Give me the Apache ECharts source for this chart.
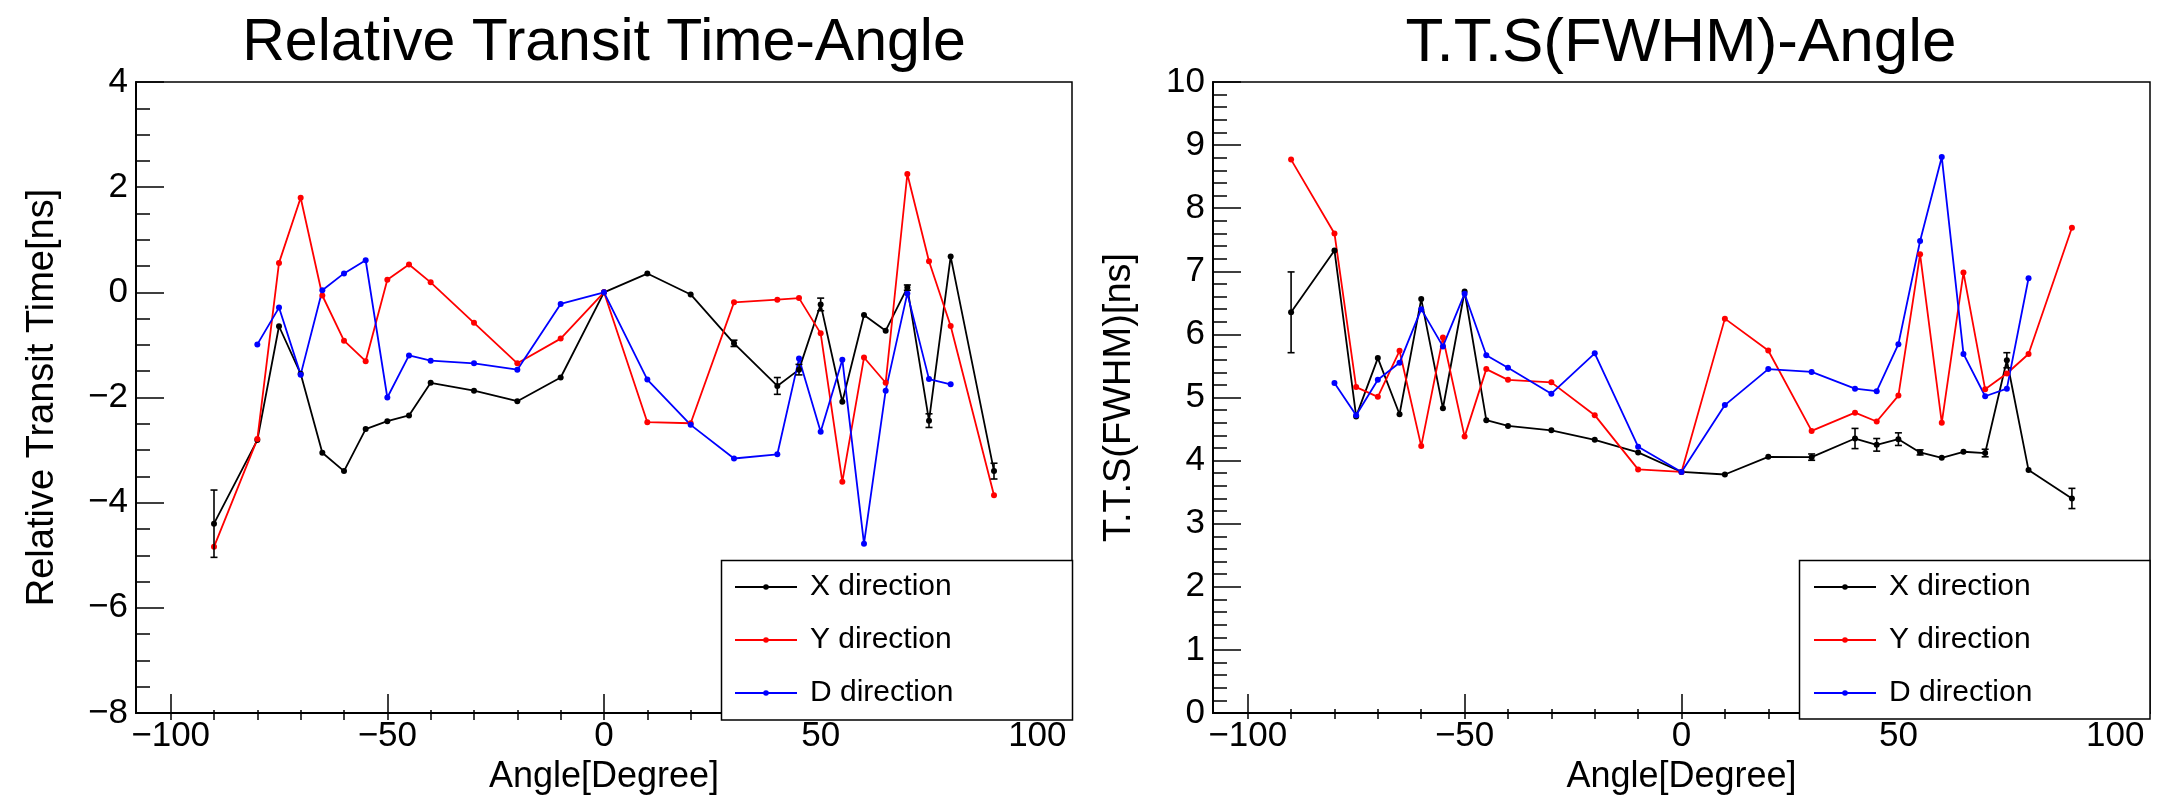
<!DOCTYPE html>
<html>
<head>
<meta charset="utf-8">
<script src="https://cdn.jsdelivr.net/npm/echarts@6/dist/echarts.min.js"></script>
<style>
html,body{margin:0;padding:0;background:#fff;}
#chart{width:2163px;height:800px;}
</style>
</head>
<body>
<div id="chart"></div>
<script>
// ---- data ----
const anglesFull = [-90,-80,-75,-70,-65,-60,-55,-50,-45,-40,-30,-20,-10,0,10,20,30,40,45,50,55,60,65,70,75,80,90];
const anglesD = [-80,-75,-70,-65,-60,-55,-50,-45,-40,-30,-20,-10,0,10,20,30,40,45,50,55,60,65,70,75,80];

// Relative transit time [ns]
const rttX = [-4.40,-2.81,-0.645,-1.55,-3.05,-3.40,-2.60,-2.45,-2.34,-1.72,-1.87,-2.07,-1.62,0,0.357,-0.04,-0.97,-1.78,-1.47,-0.23,-2.08,-0.43,-0.73,0.09,-2.44,0.68,-3.40];
const rttXErr = [0.64,0,0,0,0,0,0,0,0,0,0,0,0,0,0,0,0.06,0.16,0.10,0.12,0,0,0,0.05,0.13,0,0.15];
const rttY = [-4.84,-2.79,0.56,1.80,-0.06,-0.92,-1.31,0.24,0.53,0.19,-0.58,-1.35,-0.88,0,-2.47,-2.49,-0.19,-0.14,-0.11,-0.78,-3.60,-1.24,-1.72,2.25,0.59,-0.64,-3.86];
const rttD = [-0.99,-0.29,-1.565,0.04,0.36,0.61,-2.0,-1.20,-1.30,-1.35,-1.47,-0.22,0,-1.66,-2.52,-3.16,-3.08,-1.26,-2.65,-1.28,-4.78,-1.87,-0.02,-1.65,-1.75];

// T.T.S (FWHM) [ns]
const ttsX = [6.35,7.33,4.70,5.625,4.735,6.56,4.83,6.68,4.64,4.55,4.48,4.33,4.13,3.82,3.78,4.06,4.055,4.35,4.25,4.34,4.13,4.045,4.14,4.12,5.59,3.85,3.40];
const ttsXErr = [0.64,0,0,0,0,0,0,0,0,0,0,0,0,0,0,0,0.05,0.16,0.10,0.10,0.04,0,0,0.06,0.12,0,0.16];
const ttsY = [8.77,7.60,5.165,5.01,5.74,4.23,5.95,4.38,5.45,5.28,5.24,4.72,3.86,3.82,6.25,5.745,4.47,4.76,4.62,5.03,7.27,4.60,6.98,5.13,5.38,5.69,7.69];
const ttsD = [5.23,4.72,5.28,5.55,6.40,5.81,6.645,5.67,5.47,5.06,5.70,4.22,3.82,4.88,5.45,5.405,5.14,5.10,5.845,7.48,8.81,5.69,5.02,5.14,6.89];

const seriesNames = ['X direction','Y direction','D direction'];
const seriesColors = ['#000000','#ff0000','#0000ff'];
const titles = ['Relative Transit Time-Angle','T.T.S(FWHM)-Angle'];
const xTitle = 'Angle[Degree]';
const yTitles = ['Relative Transit Time[ns]','T.T.S(FWHM)[ns]'];
const xMajorTicks = [-100,-50,0,50,100];
const xMinorTicks = [-100,-90,-80,-70,-60,-50,-40,-30,-20,-10,0,10,20,30,40,50,60,70,80,90,100];

// ---- helpers ----
const FONT = '"Liberation Sans", Arial, Helvetica, sans-serif';
const zip = (xs, ys) => xs.map((x, i) => [x, ys[i]]);
const zipErr = (xs, ys, es) => xs.map((x, i) => [x, ys[i], es[i]]).filter(d => d[2] > 0);
const fmt = v => (v < 0 ? '\u2212' + Math.abs(v) : String(v));

const chart = echarts.init(document.getElementById('chart'), null, {renderer: 'canvas'});

function mainX(gi) {
  return {
    type: 'value', gridIndex: gi, min: -108, max: 108, position: 'bottom',
    name: xTitle, nameLocation: 'middle', nameGap: 46,
    nameTextStyle: {fontFamily: FONT, fontSize: 36, color: '#000'},
    axisLine: {show: true, onZero: false, lineStyle: {color: '#000', width: 2}},
    axisTick: {show: true, inside: true, length: 19, customValues: xMajorTicks, lineStyle: {color: '#000', width: 1.5}},
    axisLabel: {show: true, customValues: xMajorTicks, margin: 6, formatter: fmt, fontFamily: FONT, fontSize: 35, color: '#000'},
    splitLine: {show: false}
  };
}
// second x axis of each grid only carries the short 10-degree ticks;
// it sits on the 'top' side and is shifted down onto the bottom edge of the frame
function minorX(gi, plotHeight) {
  return {
    type: 'value', gridIndex: gi, min: -108, max: 108, position: 'top', offset: -plotHeight,
    axisLine: {show: false, onZero: false},
    axisTick: {show: true, inside: false, length: 10, customValues: xMinorTicks, lineStyle: {color: '#000', width: 1.5}},
    axisLabel: {show: false},
    splitLine: {show: false}
  };
}
function yAx(gi, min, max, interval, minorSplit, name) {
  return {
    type: 'value', gridIndex: gi, min: min, max: max, interval: interval,
    name: name, nameLocation: 'middle', nameRotate: 90, nameGap: 74,
    nameTextStyle: {fontFamily: FONT, fontSize: 38, color: '#000'},
    axisLine: {show: true, onZero: false, lineStyle: {color: '#000', width: 2}},
    axisTick: {show: true, inside: true, length: 28, lineStyle: {color: '#000', width: 1.5}},
    minorTick: {show: true, splitNumber: minorSplit, length: 14, lineStyle: {color: '#000', width: 1.5}},
    axisLabel: {margin: 8, formatter: fmt, fontFamily: FONT, fontSize: 35, color: '#000'},
    splitLine: {show: false}, minorSplitLine: {show: false}
  };
}
function lineSeries(name, color, xs, ys, xi, yi) {
  return {
    type: 'line', name: name, xAxisIndex: xi, yAxisIndex: yi,
    data: zip(xs, ys), symbol: 'circle', symbolSize: 6,
    lineStyle: {color: color, width: 1.8}, itemStyle: {color: color},
    emphasis: {disabled: true}, z: 3
  };
}
function errSeries(xs, ys, es, xi, yi) {
  return {
    type: 'custom', name: 'err', xAxisIndex: xi, yAxisIndex: yi,
    data: zipErr(xs, ys, es), z: 4,
    renderItem: function (params, api) {
      const x = api.value(0), y = api.value(1), e = api.value(2);
      const t = api.coord([x, y + e]), b = api.coord([x, y - e]);
      const c = 3.5;
      const st = {stroke: '#000', lineWidth: 1.6};
      return {type: 'group', children: [
        {type: 'line', shape: {x1: t[0], y1: t[1], x2: b[0], y2: b[1]}, style: st},
        {type: 'line', shape: {x1: t[0] - c, y1: t[1], x2: t[0] + c, y2: t[1]}, style: st},
        {type: 'line', shape: {x1: b[0] - c, y1: b[1], x2: b[0] + c, y2: b[1]}, style: st}
      ]};
    }
  };
}
function legendAt(left) {
  return {
    show: true, orient: 'vertical', left: left, top: 572, padding: 0,
    itemWidth: 62, itemHeight: 7, itemGap: 23, selectedMode: false, z: 20,
    data: seriesNames,
    textStyle: {fontFamily: FONT, fontSize: 30, color: '#000', padding: [0, 0, 0, 8]}
  };
}

const option = {
  animation: false,
  backgroundColor: '#ffffff',
  title: [
    {text: titles[0], left: 604, top: 14, textAlign: 'center', padding: 0,
     textStyle: {fontFamily: FONT, fontSize: 59, fontWeight: 'normal', color: '#000'}},
    {text: titles[1], left: 1681, top: 13, textAlign: 'center', padding: 0,
     textStyle: {fontFamily: FONT, fontSize: 62, fontWeight: 'normal', color: '#000'}}
  ],
  grid: [
    {left: 136, top: 82, width: 936, height: 638, show: true, borderColor: '#000', borderWidth: 1.5, backgroundColor: 'transparent'},
    {left: 1213, top: 82, width: 937, height: 637, show: true, borderColor: '#000', borderWidth: 1.5, backgroundColor: 'transparent'}
  ],
  xAxis: [mainX(0), minorX(0, 638), mainX(1), minorX(1, 637)],
  yAxis: [yAx(0, -8, 4, 2, 4, yTitles[0]), yAx(1, 0, 10, 1, 5, yTitles[1])],
  legend: [legendAt(734), legendAt(1813)],
  graphic: [
    {type: 'rect', z: 15, shape: {x: 721.5, y: 560.5, width: 351, height: 159.5}, style: {fill: '#fff', stroke: '#000', lineWidth: 1.5}},
    {type: 'rect', z: 15, shape: {x: 1799.5, y: 560.5, width: 350.5, height: 158.5}, style: {fill: '#fff', stroke: '#000', lineWidth: 1.5}}
  ],
  series: [
    lineSeries(seriesNames[0], seriesColors[0], anglesFull, rttX, 0, 0),
    errSeries(anglesFull, rttX, rttXErr, 0, 0),
    lineSeries(seriesNames[1], seriesColors[1], anglesFull, rttY, 0, 0),
    lineSeries(seriesNames[2], seriesColors[2], anglesD, rttD, 0, 0),
    lineSeries(seriesNames[0], seriesColors[0], anglesFull, ttsX, 2, 1),
    errSeries(anglesFull, ttsX, ttsXErr, 2, 1),
    lineSeries(seriesNames[1], seriesColors[1], anglesFull, ttsY, 2, 1),
    lineSeries(seriesNames[2], seriesColors[2], anglesD, ttsD, 2, 1)
  ]
};
chart.setOption(option);
</script>
</body>
</html>
